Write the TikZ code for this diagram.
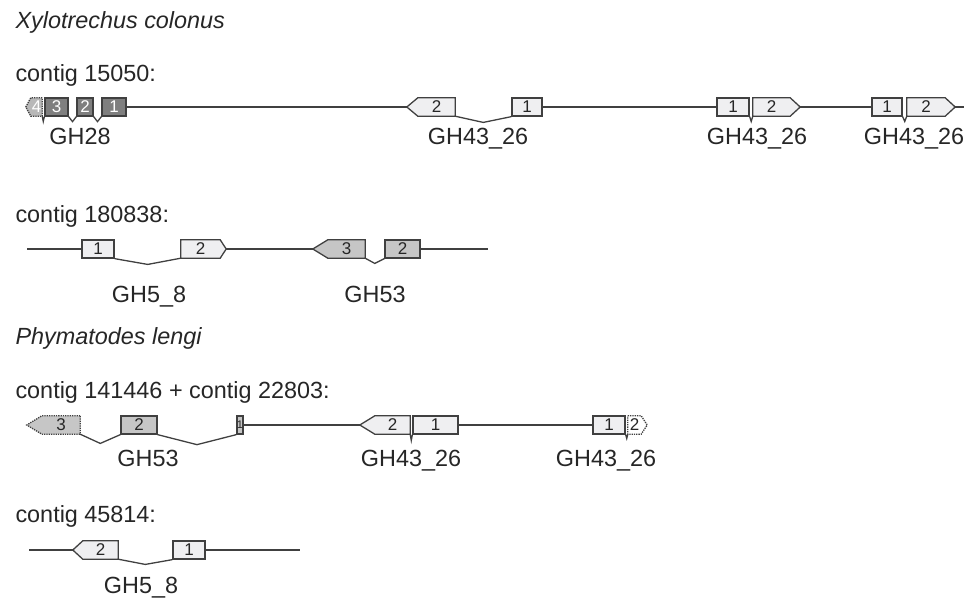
\documentclass[tikz,border=0pt]{standalone}
\usepackage{fontspec}
\setmainfont{Liberation Sans}
\usetikzlibrary{calc,backgrounds}

\definecolor{edgegray}{HTML}{404040}
\definecolor{txtgray}{HTML}{262626}
\definecolor{exlight}{HTML}{EFEFF1}
\definecolor{exmid}{HTML}{C6C6C6}
\definecolor{exdark}{HTML}{7F7F7F}
\definecolor{expart}{HTML}{B8B8B8}

\begin{document}
\begin{tikzpicture}[x=1pt,y=-1pt,
				exon/.style={rectangle, inner sep=0pt, minimum height=18, text=txtgray,
					font=\fontsize{17}{18}\selectfont},
				box/.style={exon, draw=edgegray, line width=1.3pt},
				light/.style={fill=exlight},
				mid/.style={fill=exmid},
				dark/.style={fill=exdark, text=white},
				part/.style={densely dotted},
				outline/.style={draw=edgegray, line width=1.3pt, line join=miter},
				gene/.style={draw=edgegray, line width=1.7pt},
				intron/.style={draw=edgegray, line width=1.3pt},
				lab/.style={anchor=base, text=txtgray, font=\fontsize{23.4}{28}\selectfont},
				head/.style={anchor=base west, text=txtgray, font=\fontsize{23.4}{28}\selectfont}]
				\useasboundingbox (0,0) rectangle (964,601);

				% Xylotrechus colonus
				\node[head] (sp1) at (12,29) {\itshape Xylotrechus colonus};
				\node[head] (c15050) at (12,82) {contig 15050:};
					% GH28
					\node[exon,text=white,minimum width=11] (x4) at (36.5,107) {4};
					\coordinate (x4t) at ([xshift=-5pt]x4.west);
					\node[box,dark,minimum width=23] (x3) at (56.5,107) {3};
					\node[box,dark,minimum width=16] (x2) at (85,107) {2};
					\node[box,dark,minimum width=24] (x1) at (114,107) {1};
					% GH43_26
					\node[exon,minimum width=37] (a2) at (436.5,107) {2};
					\coordinate (a2t) at ([xshift=-11pt]a2.west);
					\node[box,light,minimum width=30] (a1) at (527,107) {1};
					\node[box,light,minimum width=32] (b1) at (733,107) {1};
					\node[exon,minimum width=37] (b2) at (771.5,107) {2};
					\coordinate (b2t) at ([xshift=10pt]b2.east);
					\node[box,light,minimum width=30] (c1) at (887,107) {1};
					\node[exon,minimum width=38] (c2) at (926,107) {2};
					\coordinate (c2t) at ([xshift=10pt]c2.east);
					\coordinate (end1) at (964,107);
				\draw[gene] (x1.east) -- (a2t);
				\draw[gene] (a1.east) -- (b1.west);
				\draw[gene] (b2t) -- (c1.west);
				\draw[gene] (c2t) -- (end1);
				\draw[intron] (x4.south east) -- ($(x4.south east)!.5!(x3.south west)+(0,5)$) -- (x3.south west);
				\draw[intron] (x3.south east) -- ($(x3.south east)!.5!(x2.south west)+(0,5)$) -- (x2.south west);
				\draw[intron] (x2.south east) -- ($(x2.south east)!.5!(x1.south west)+(0,5)$) -- (x1.south west);
				\draw[intron] (a2.south east) -- ($(a2.south east)!.5!(a1.south west)+(0,6)$) -- (a1.south west);
				\draw[intron] (b1.south east) -- ($(b1.south east)!.5!(b2.south west)+(0,5)$) -- (b2.south west);
				\draw[intron] (c1.south east) -- ($(c1.south east)!.5!(c2.south west)+(0,5)$) -- (c2.south west);
				\node[lab] (l28) at (80,145) {GH28};
				\node[lab] (l43a) at (478,145) {GH43\_26};
				\node[lab] (l43b) at (757,145) {GH43\_26};
				\node[lab] (l43c) at (914,145) {GH43\_26};

				\node[head] (c180838) at (12,223) {contig 180838:};
					% GH5_8
					\coordinate (start2) at (27,249);
					\node[box,light,minimum width=32] (d1) at (98,249) {1};
					\node[exon,minimum width=39] (d2) at (200.5,249) {2};
					\coordinate (d2t) at ([xshift=6pt]d2.east);
					% GH53
					\node[exon,minimum width=37] (g3) at (346.5,249) {3};
					\coordinate (g3t) at ([xshift=-15pt]g3.west);
					\node[box,mid,minimum width=35] (g2) at (402.5,249) {2};
					\coordinate (end2) at (488,249);
				\draw[gene] (start2) -- (d1.west);
				\draw[gene] (d2t) -- (g3t);
				\draw[gene] (g2.east) -- (end2);
				\draw[intron] (d1.south east) -- ($(d1.south east)!.5!(d2.south west)+(0,6)$) -- (d2.south west);
				\draw[intron] (g3.south east) -- ($(g3.south east)!.5!(g2.south west)+(0,5)$) -- (g2.south west);
				\node[lab] (l58a) at (149,303) {GH5\_8};
				\node[lab] (l53a) at (375,303) {GH53};

				% Phymatodes lengi
				\node[head] (sp2) at (12,345) {\itshape Phymatodes lengi};
				\node[head] (c141446) at (12,399) {contig 141446 + contig 22803:};
					% GH53
					\node[exon,minimum width=38] (h3) at (61,425) {3};
					\coordinate (h3t) at ([xshift=-15pt]h3.west);
					\node[box,mid,minimum width=36] (h2) at (139,425) {2};
					\node[box,mid,minimum width=6,font=\fontsize{11}{12}\selectfont] (h1) at (240,425) {1};
					% GH43_26
					\node[exon,minimum width=35] (k2) at (392.5,425) {2};
					\coordinate (k2t) at ([xshift=-15pt]k2.west);
					\node[box,light,minimum width=45] (k1) at (435.5,425) {1};
					\node[box,light,minimum width=32] (m1) at (609,425) {1};
					\node[exon,minimum width=13] (m2) at (634.5,425) {2};
					\coordinate (m2t) at ([xshift=6pt]m2.east);
				\draw[gene] (h1.east) -- (k2t);
				\draw[gene] (k1.east) -- (m1.west);
				\draw[intron] (h3.south east) -- ($(h3.south east)!.5!(h2.south west)+(0,9)$) -- (h2.south west);
				\draw[intron] (h2.south east) -- ($(h2.south east)!.5!(h1.south west)+(0,10)$) -- (h1.south west);
				\draw[intron] (k2.south east) -- ($(k2.south east)!.5!(k1.south west)+(0,6)$) -- (k1.south west);
				\draw[intron] (m1.south east) -- ($(m1.south east)!.5!(m2.south west)+(0,4)$) -- (m2.south west);
				\node[lab] (l53b) at (148,467) {GH53};
				\node[lab] (l43d) at (411,467) {GH43\_26};
				\node[lab] (l43e) at (606,467) {GH43\_26};

				\node[head] (c45814) at (12,522) {contig 45814:};
					% GH5_8
					\coordinate (start4) at (29,550);
					\node[exon,minimum width=35] (n2) at (100.5,550) {2};
					\coordinate (n2t) at ([xshift=-10pt]n2.west);
					\node[box,light,minimum width=32] (n1) at (189,550) {1};
					\coordinate (end4) at (300,550);
				\draw[gene] (start4) -- (n2t);
				\draw[gene] (n1.east) -- (end4);
				\draw[intron] (n2.south east) -- ($(n2.south east)!.5!(n1.south west)+(0,5)$) -- (n1.south west);
				\node[lab] (l58b) at (141,593) {GH5\_8};

				% pointed exons
				\begin{pgfonlayer}{background}
					\filldraw[outline,part,fill=expart] (x4.north east) -- (x4.north west) -- (x4t) -- (x4.south west) -- (x4.south east) -- cycle;
					\filldraw[outline,fill=exlight] (a2.north east) -- (a2.north west) -- (a2t) -- (a2.south west) -- (a2.south east) -- cycle;
					\filldraw[outline,fill=exlight] (b2.north west) -- (b2.north east) -- (b2t) -- (b2.south east) -- (b2.south west) -- cycle;
					\filldraw[outline,fill=exlight] (c2.north west) -- (c2.north east) -- (c2t) -- (c2.south east) -- (c2.south west) -- cycle;
					\filldraw[outline,fill=exlight] (d2.north west) -- (d2.north east) -- (d2t) -- (d2.south east) -- (d2.south west) -- cycle;
					\filldraw[outline,fill=exmid] (g3.north east) -- (g3.north west) -- (g3t) -- (g3.south west) -- (g3.south east) -- cycle;
					\filldraw[outline,part,fill=exmid] (h3.north east) -- (h3.north west) -- (h3t) -- (h3.south west) -- (h3.south east) -- cycle;
					\filldraw[outline,fill=exlight] (k2.north east) -- (k2.north west) -- (k2t) -- (k2.south west) -- (k2.south east) -- cycle;
					\filldraw[outline,part,fill=white] (m2.north west) -- (m2.north east) -- (m2t) -- (m2.south east) -- (m2.south west) -- cycle;
					\filldraw[outline,fill=exlight] (n2.north east) -- (n2.north west) -- (n2t) -- (n2.south west) -- (n2.south east) -- cycle;
				\end{pgfonlayer}
			\end{tikzpicture}
\end{document}
